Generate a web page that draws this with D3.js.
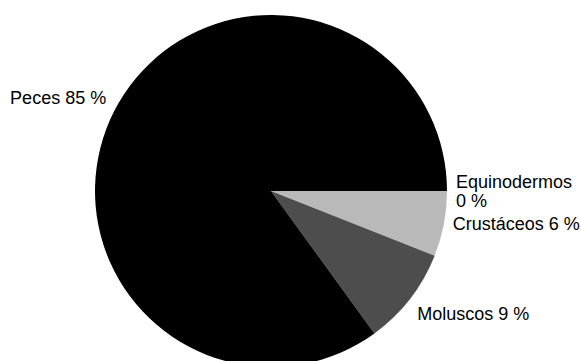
<!DOCTYPE html>
<html>
<head>
<meta charset="utf-8">
<script src="https://cdn.jsdelivr.net/npm/d3@7"></script>
<style>
  html, body { margin: 0; padding: 0; background: #fff; }
  svg { display: block; }
  .slice-label { font-family: "Liberation Sans", Arial, sans-serif; font-size: 18px; fill: #000; }
</style>
</head>
<body>
<div id="chart"></div>
<script>
// Composición por grupo (%), en el orden de dibujo (a partir de las 3, sentido horario)
var grupos = ['Equinodermos', 'Crustáceos', 'Moluscos', 'Peces'];
var porcentajes = [0, 6, 9, 85];
var colores = ['#ffffff', '#b9b9b9', '#4d4d4d', '#000000'];

var width = 581;
var height = 361;
var cx = 271;
var cy = 191;
var radius = 176;
var labelGap = 9;
var fontSize = 18;
var lineHeight = 19;

var svg = d3.select('#chart').append('svg')
  .attr('width', width)
  .attr('height', height);

var g = svg.append('g')
  .attr('transform', 'translate(' + cx + ',' + cy + ')');

var data = grupos.map(function(d, i) {
  return { name: d, value: porcentajes[i], color: colores[i] };
});

//Pie starts at 3 o'clock and runs clockwise
var pie = d3.pie()
  .sort(null)
  .value(function(d) { return d.value; })
  .startAngle(Math.PI / 2)
  .endAngle(Math.PI / 2 + 2 * Math.PI);

var arc = d3.arc()
  .innerRadius(0)
  .outerRadius(radius);

var arcs = pie(data);

g.selectAll('path.slice')
  .data(arcs)
  .enter().append('path')
  .attr('class', 'slice')
  .attr('d', arc)
  .attr('fill', function(d) { return d.data.color; });

//Measure text so long labels can wrap before the value
var measure = svg.append('text').attr('class', 'slice-label').attr('visibility', 'hidden');
function textWidth(s) {
  measure.text(s);
  return measure.node().getComputedTextLength();
}

arcs.forEach(function(a) {
  var mid = (a.startAngle + a.endAngle) / 2;
  var sx = Math.sin(mid);
  var sy = -Math.cos(mid);
  var px = (radius + labelGap) * sx;
  var py = (radius + labelGap) * sy;

  var anchor = sx > 0.3 ? 'start' : (sx < -0.3 ? 'end' : 'middle');

  var full = a.data.name + ' ' + a.data.value + ' %';
  var lines = [full];
  var w = textWidth(full);
  var right = anchor === 'start' ? cx + px + w : (anchor === 'middle' ? cx + px + w / 2 : cx + px);
  if (right > width) {
    lines = [a.data.name, a.data.value + ' %'];
  }

  var blockH = lines.length * lineHeight;
  var top;
  if (sy > 0.3) {
    top = py;
  } else if (sy < -0.3) {
    top = py - blockH;
  } else {
    //side labels sit a little above the slice middle
    top = py - blockH / 2 - (lines.length === 1 ? 2 : 0);
  }

  var text = g.append('text')
    .attr('class', 'slice-label')
    .attr('text-anchor', anchor);

  lines.forEach(function(line, i) {
    text.append('tspan')
      .attr('x', px)
      .attr('y', top + i * lineHeight + lineHeight / 2 + fontSize * 0.35)
      .text(line);
  });
});

measure.remove();
</script>
</body>
</html>
